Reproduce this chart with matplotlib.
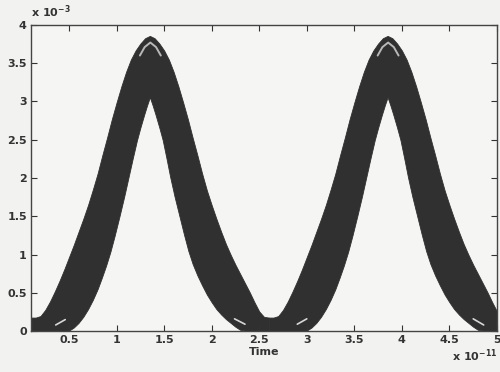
import numpy as np
import matplotlib.pyplot as plt

# Time axis in units of 1e-11 s, amplitude in units of 1e-3
pulse_centres = [1.355, 3.855]

# upper envelope of the traces, offset from pulse centre
hi_dt = [-1.25, -1.20, -1.15, -1.10, -1.05, -1.00, -0.95, -0.90, -0.85, -0.80,
         -0.75, -0.70, -0.65, -0.60, -0.55, -0.50, -0.45, -0.40, -0.35, -0.30,
         -0.25, -0.20, -0.15, -0.10, -0.05, 0.0,
         0.05, 0.10, 0.15, 0.20, 0.25, 0.30, 0.35, 0.40, 0.45, 0.50,
         0.55, 0.60, 0.65, 0.70, 0.75, 0.80, 0.85, 0.90, 0.95, 1.00,
         1.05, 1.10, 1.15, 1.20, 1.25]
hi_val = [0.17, 0.17, 0.19, 0.27, 0.38, 0.51, 0.65, 0.80, 0.96, 1.12,
          1.29, 1.46, 1.64, 1.84, 2.05, 2.29, 2.52, 2.76, 2.98, 3.19,
          3.38, 3.54, 3.66, 3.75, 3.82, 3.85,
          3.82, 3.75, 3.66, 3.54, 3.38, 3.19, 2.98, 2.76, 2.52, 2.29,
          2.05, 1.83, 1.64, 1.46, 1.29, 1.13, 0.99, 0.86, 0.74, 0.62,
          0.50, 0.37, 0.25, 0.18, 0.17]

# lower envelope (inside of the arch)
lo_dt = [-1.25, -0.85, -0.80, -0.75, -0.70, -0.65, -0.60, -0.55, -0.505, -0.46,
         -0.415, -0.37, -0.32, -0.27, -0.225, -0.18, -0.135, -0.10, -0.06, -0.03,
         0.0, 0.03, 0.06, 0.10, 0.135, 0.175, 0.215, 0.26, 0.31, 0.36,
         0.405, 0.45, 0.50, 0.55, 0.60, 0.65, 0.70, 0.75, 0.80, 0.85,
         0.90, 0.95, 1.00, 1.25]
lo_val = [0.0, 0.0, 0.04, 0.10, 0.18, 0.28, 0.40, 0.54, 0.69, 0.85,
          1.03, 1.24, 1.49, 1.75, 2.00, 2.25, 2.49, 2.65, 2.82, 2.94,
          3.05, 2.94, 2.82, 2.65, 2.49, 2.25, 2.00, 1.75, 1.50, 1.25,
          1.04, 0.87, 0.72, 0.59, 0.47, 0.37, 0.28, 0.21, 0.15, 0.10,
          0.05, 0.01, 0.0, 0.0]

# lighter traces at the top of each pulse
cap_dt = [-0.11, -0.06, 0.0, 0.06, 0.11]
cap_val = [3.60, 3.71, 3.77, 3.71, 3.60]

# short light traces near the baseline
streaks = [([0.36, 0.46], [0.08, 0.15]),
           ([2.24, 2.35], [0.16, 0.09]),
           ([2.90, 3.00], [0.09, 0.16]),
           ([4.75, 4.86], [0.16, 0.08])]

band = '#303030'

fig = plt.figure(figsize=(5, 3.72), dpi=100, facecolor='#f2f2f0')
ax = fig.add_axes([0.062, 0.110, 0.932, 0.823])
ax.set_facecolor('#f5f5f3')

for c in pulse_centres:
    px = [c + d for d in hi_dt] + [c + d for d in lo_dt[::-1]]
    py = hi_val + lo_val[::-1]
    ax.fill(px, py, color=band, edgecolor=band, linewidth=0.6)
    ax.plot([c + d for d in cap_dt], cap_val, color='#b8b8b8', lw=1.4,
            solid_capstyle='round')

for sx, sy in streaks:
    ax.plot(sx, sy, color='#d8d8d8', lw=1.2, solid_capstyle='round')

ax.set_xlim(0.1, 5.0)
ax.set_ylim(0, 4)
ax.set_xticks(np.arange(0.5, 5.01, 0.5))
ax.set_xticklabels(['0.5', '1', '1.5', '2', '2.5', '3', '3.5', '4', '4.5', '5'])
ax.set_yticks(np.arange(0, 4.01, 0.5))
ax.set_yticklabels(['0', '0.5', '1', '1.5', '2', '2.5', '3', '3.5', '4'])
ax.tick_params(direction='in', length=4, width=0.8, top=True, right=True,
               labelsize=8, pad=3, colors='#333333')
for lab in ax.get_xticklabels() + ax.get_yticklabels():
    lab.set_fontweight('bold')
for s in ax.spines.values():
    s.set_color('#444444')
    s.set_linewidth(1.0)

ax.set_xlabel('Time', fontsize=8, fontweight='bold', labelpad=1, color='#333333')
plt.rcParams['mathtext.default'] = 'regular'
fig.text(0.062, 0.945, r'x 10$^{-3}$', fontsize=8, fontweight='bold', color='#333333',
         ha='left', va='bottom')
fig.text(0.994, 0.022, r'x 10$^{-11}$', fontsize=8, fontweight='bold', color='#333333',
         ha='right', va='bottom')

fig.savefig('out.png', dpi=100, facecolor=fig.get_facecolor())
